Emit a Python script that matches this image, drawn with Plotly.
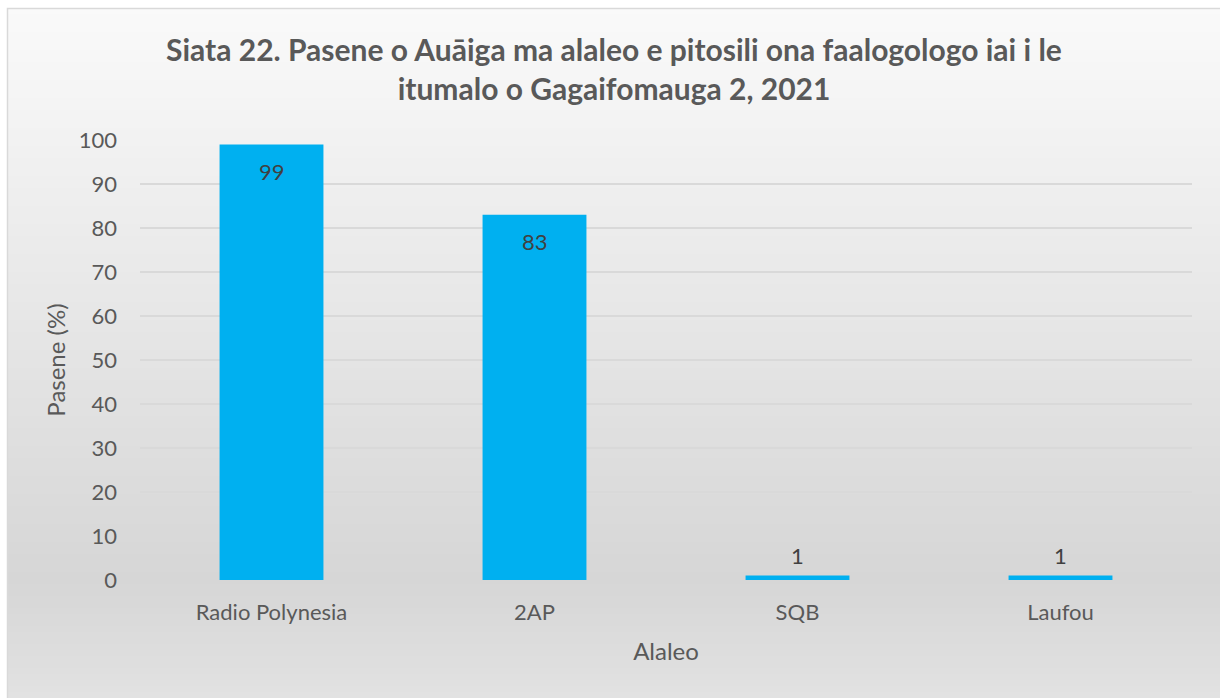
import plotly.graph_objects as go

categories = ["Radio Polynesia", "2AP", "SQB", "Laufou"]
values = [99, 83, 1, 1]
y_ticks = [0, 10, 20, 30, 40, 50, 60, 70, 80, 90, 100]
title_text = "Siata 22. Pasene o Auāiga ma alaleo e pitosili ona faalogologo iai i le<br>itumalo o Gagaifomauga 2, 2021"
x_title = "Alaleo"
y_title = "Pasene (%)"

W, H = 1220, 698
L, R, T, B = 140, 28, 140, 118
pw, ph = W - L - R, H - T - B

def px_x(p):
    return (p - L) / pw

def px_y(p):
    return (H - B - p) / ph

FONT = "Lato"
fig = go.Figure()
fig.add_trace(go.Bar(
    x=categories, y=values, marker=dict(color="#00B0F0", line=dict(width=0)),
    hoverinfo="x+y", showlegend=False,
))

# data labels
for c, v in zip(categories, values):
    inside = v > 10
    fig.add_annotation(
        x=c, y=v, xref="x", yref="y", text=str(v), showarrow=False,
        yshift=-27 if inside else 20, yanchor="middle",
        font=dict(family=FONT, size=22, color="#404040"),
    )

# gradient background
def lerp(a, b, t):
    return tuple(round(a[i] + (b[i] - a[i]) * t) for i in range(3))

stops = [(8, (250, 250, 250)), (580, (214, 214, 214)), (700, (226, 226, 226))]
shapes = []
step = 6
y0 = 8
while y0 < 700:
    y1 = min(y0 + step, 700)
    ym = (y0 + y1) / 2
    for (sa, ca), (sb, cb) in zip(stops[:-1], stops[1:]):
        if sa <= ym <= sb:
            col = lerp(ca, cb, (ym - sa) / (sb - sa))
            break
    else:
        col = stops[-1][1]
    shapes.append(dict(type="rect", xref="paper", yref="paper", layer="below",
                       x0=px_x(7), x1=px_x(1230), y0=px_y(y0), y1=px_y(y1 + 0.5),
                       fillcolor="rgb(%d,%d,%d)" % col, line=dict(width=0)))
    y0 = y1
shapes.append(dict(type="rect", xref="paper", yref="paper", layer="below",
                   x0=px_x(7.5), x1=px_x(1230), y0=px_y(8.5), y1=px_y(710),
                   fillcolor="rgba(0,0,0,0)", line=dict(color="#d9d9d9", width=1.5)))

fig.update_layout(
    width=W, height=H,
    margin=dict(l=L, r=R, t=T, b=B, autoexpand=False),
    paper_bgcolor="white", plot_bgcolor="rgba(0,0,0,0)",
    bargap=0.605,
    shapes=shapes,
    title=dict(text=title_text, x=614 / W, xanchor="center", xref="container",
               y=1 - 61 / H, yanchor="middle", yref="container",
               font=dict(family=FONT, size=30, color="#595959", weight="bold")),
    xaxis=dict(showgrid=False, showline=False, zeroline=False, ticks="",
               tickfont=dict(family=FONT, size=22, color="#595959"),
               ticklabelstandoff=17,
               title=dict(text=x_title, font=dict(family=FONT, size=24, color="#595959"), standoff=19)),
    yaxis=dict(range=[0, 100], tickvals=y_ticks, showgrid=True, gridcolor="#d9d9d9", gridwidth=1.5,
               zeroline=False, showline=False, ticks="",
               tickfont=dict(family=FONT, size=22, color="#595959"),
               ticklabelstandoff=22,
               title=dict(text=y_title, font=dict(family=FONT, size=24, color="#595959"), standoff=6)),
    font=dict(family=FONT),
)

fig.write_html("out.html", config={"displayModeBar": False},
               post_script="document.body.style.margin='0';document.body.style.overflow='hidden';")
